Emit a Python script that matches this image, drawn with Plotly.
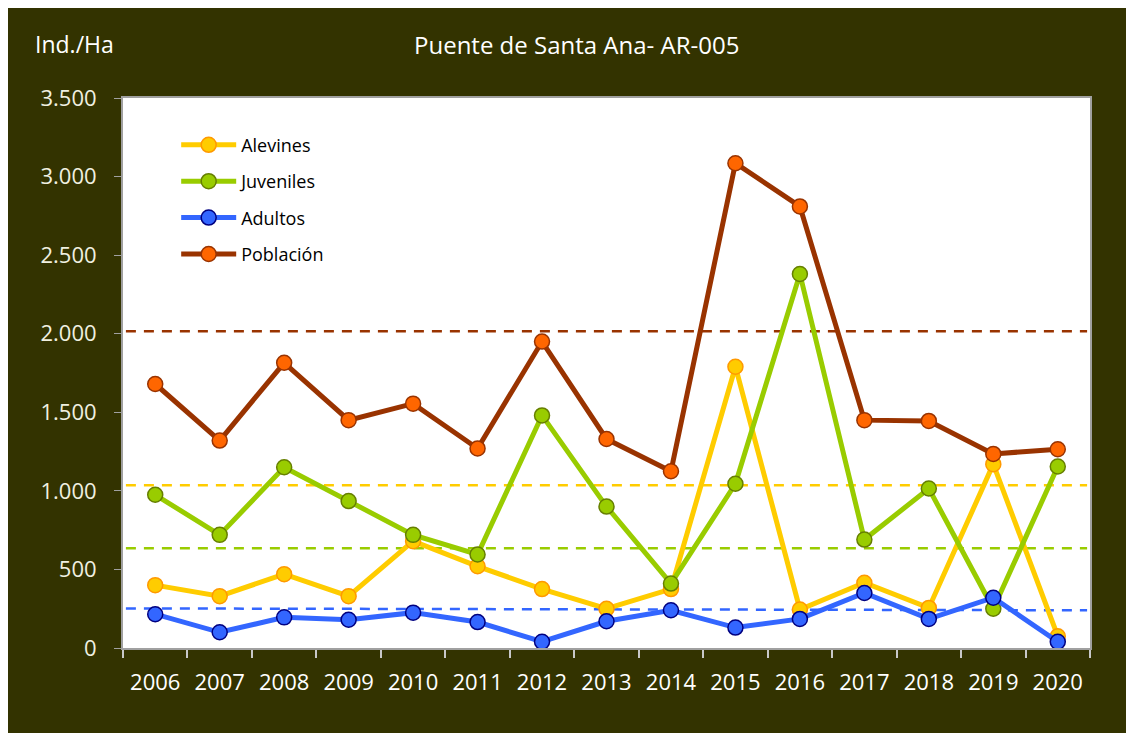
import plotly.graph_objects as go

years = ["2006", "2007", "2008", "2009", "2010", "2011", "2012", "2013",
         "2014", "2015", "2016", "2017", "2018", "2019", "2020"]

alevines = [400, 330, 470, 330, 680, 520, 375, 250, 375, 1790, 245, 415, 255, 1170, 75]
juveniles = [975, 720, 1150, 935, 720, 595, 1480, 900, 410, 1045, 2380, 690, 1015, 250, 1155]
adultos = [215, 100, 195, 180, 225, 165, 40, 170, 240, 130, 185, 350, 185, 320, 40]
poblacion = [1680, 1320, 1815, 1450, 1555, 1270, 1950, 1330, 1125, 3085, 2810, 1450, 1445, 1235, 1265]

# reference (dashed) levels: start / end values
ref_poblacion = [2015, 2015]
ref_alevines = [1035, 1035]
ref_juveniles = [635, 635]
ref_adultos = [252, 240]

series = [
    ("Alevines", alevines, "#FFCC00", "#FFCC00", "#FF9900"),
    ("Juveniles", juveniles, "#99CC00", "#99CC00", "#667F00"),
    ("Adultos", adultos, "#3366FF", "#3366FF", "#000080"),
    ("Población", poblacion, "#993300", "#FF6600", "#993300"),
]

refs = [
    (ref_poblacion, "#993300"),
    (ref_alevines, "#FFCC00"),
    (ref_juveniles, "#99CC00"),
    (ref_adultos, "#3366FF"),
]

fig = go.Figure()
for i, (name, vals, lc, mc, mlc) in enumerate(series):
    fig.add_trace(go.Scatter(
        x=years, y=vals, name=name, mode="lines+markers",
        line=dict(color=lc, width=5),
        marker=dict(size=15, color=mc, line=dict(color=mlc, width=1.5)),
        legendgroup=name,
    ))

shapes = []
for vals, col in refs:
    shapes.append(dict(type="line", xref="paper", yref="y", x0=0.003, x1=0.997,
                       y0=vals[0], y1=vals[1], layer="below",
                       line=dict(color=col, width=2.5, dash="10px,8px")))

fig.update_layout(
    width=1142, height=741,
    paper_bgcolor="#333300", plot_bgcolor="#FFFFFF",
    margin=dict(l=115, r=60, t=90, b=101),
    separators=",.",
    font=dict(family="Open Sans", color="#FFFFFF"),
    shapes=shapes,
    showlegend=True,
    legend=dict(x=0.055, y=0.948, xanchor="left", yanchor="top",
                bgcolor="rgba(0,0,0,0)", font=dict(size=18, color="#000000"),
                tracegroupgap=10, itemwidth=55),
    annotations=[
        dict(text="Puente de Santa Ana- AR-005", xref="paper", yref="paper",
             x=0.4685, y=1, yshift=54, xanchor="center", yanchor="middle",
             showarrow=False, font=dict(size=24, color="#FFFFFF")),
        dict(text="Ind./Ha", xref="paper", yref="paper",
             x=-0.093, y=1, yshift=54, xanchor="left", yanchor="middle",
             showarrow=False, font=dict(size=23, color="#FFFFFF")),
    ],
)

fig.update_xaxes(
    type="category", tickson="boundaries", ticks="outside", ticklen=8,
    tickcolor="#C8C8C8", tickwidth=1.5,
    showline=True, linecolor="#A0A0A0", linewidth=2, mirror=True,
    showgrid=False, tickfont=dict(size=22, color="#FFFFFF"),
    ticklabelstandoff=14,
    range=[-0.5, 14.5],
)
fig.update_yaxes(
    range=[0, 3500], dtick=500, tickformat=",", ticks="outside", ticklen=7,
    tickcolor="#A0A0A0", showline=True, linecolor="#A0A0A0", linewidth=2,
    mirror=True, showgrid=False, zeroline=False,
    ticklabelstandoff=13,
    tickfont=dict(size=22, color="#F0F0E0"),
)

fig.write_html(
    "out.html",
    default_width="1142px", default_height="741px",
    post_script="document.body.style.overflow='hidden';",
)
